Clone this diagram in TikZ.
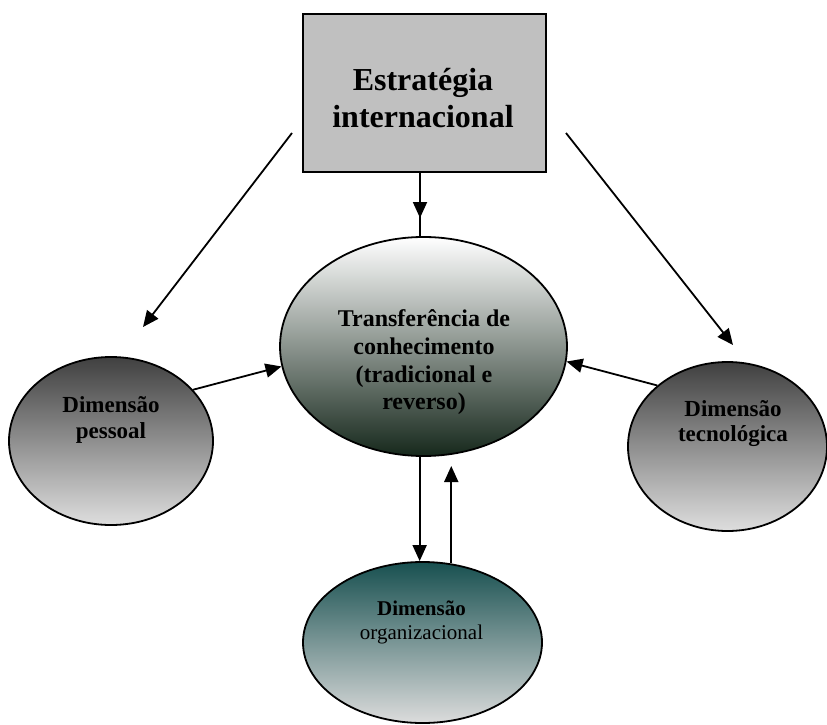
\documentclass[tikz,border=0pt]{standalone}
\usepackage{fontspec}
\setmainfont{Liberation Serif}
\usetikzlibrary{shapes.geometric,arrows.meta}
\definecolor{boxgray}{RGB}{192,192,192}
\definecolor{ctop}{RGB}{255,255,255}
\definecolor{cmid}{RGB}{170,172,170}
\definecolor{cbot}{RGB}{22,40,28}
\definecolor{gtop}{RGB}{64,64,64}
\definecolor{gbot}{RGB}{222,222,222}
\definecolor{otop}{RGB}{24,80,80}
\definecolor{obot}{RGB}{220,220,220}
\begin{document}
\begin{tikzpicture}[x=1pt,y=-1pt,
  arr/.style={line width=1.8pt,-{Triangle[length=16pt,width=14pt]}},
  conn/.style={line width=1.8pt},
  ell/.style={ellipse,draw=black,line width=1.8pt,inner sep=0pt},
  lbl/.style={align=center,text=black,inner sep=0pt}]
\path[use as bounding box] (0,0) rectangle (827,725);
% nodes
\node[draw=black,line width=1.8pt,fill=boxgray,minimum width=243pt,minimum height=158pt,inner sep=0pt] (box) at (424.5,93) {};
\node[lbl,font=\bfseries\fontsize{32}{37}\selectfont] (boxt) at (423,98.5) {Estratégia\\internacional};
\node[ell,top color=ctop,middle color=cmid,bottom color=cbot,minimum width=287pt,minimum height=219pt] (trans) at (423.5,346.5) {};
\node[lbl,font=\bfseries\fontsize{24}{27.7}\selectfont] (transt) at (424,362.5) {Transferência de\\conhecimento\\(tradicional e\\reverso)};
\node[ell,top color=gtop,bottom color=gbot,minimum width=204pt,minimum height=168pt] (pes) at (111,441) {};
\node[lbl,font=\bfseries\fontsize{23}{26}\selectfont] (pest) at (111,419.5) {Dimensão\\pessoal};
\node[ell,top color=gtop,bottom color=gbot,minimum width=199pt,minimum height=169pt] (tec) at (727.5,446.5) {};
\node[lbl,font=\bfseries\fontsize{23}{24.5}\selectfont] (tect) at (733,423.5) {Dimensão\\tecnológica};
\node[ell,top color=otop,bottom color=obot,minimum width=239pt,minimum height=161pt] (org) at (422.5,642.5) {};
\node[lbl,font=\fontsize{21}{24}\selectfont] (orgt) at (421.5,622) {\textbf{Dimensão}\\organizacional};
% free ends
\coordinate (lstart) at (292,133);
\coordinate (ltip) at (143,327);
\coordinate (rstart) at (566,133);
\coordinate (rtip) at (733,345);
\coordinate (mtip) at (420,218);
\coordinate (uptip) at (450,466);
% connectors
\draw[arr] (lstart) -- (ltip);
\draw[arr] (rstart) -- (rtip);
\draw[conn] ([xshift=-4.5pt]box.south) -- ([xshift=-3.5pt]trans.north);
\draw[arr] ([xshift=-4.5pt]box.south) -- (mtip);
\draw[arr] (pes.32.4) -- (trans.188.4);
\draw[arr] (tec.139) -- (trans.354.6);
\draw[arr] (trans.268.2) -- (trans.268.2 |- org.north);
\draw[arr] (org.70.6) -- (org.70.6 |- uptip);
\end{tikzpicture}
\end{document}
